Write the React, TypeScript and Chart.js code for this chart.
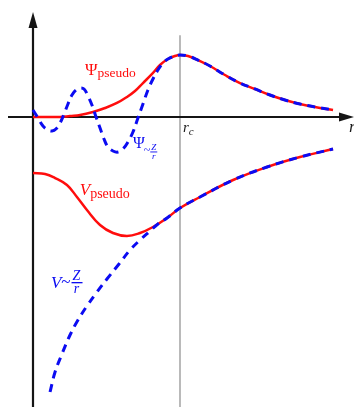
import React, { useEffect, useRef } from "react";
import { Chart, registerables } from "chart.js";

Chart.register(...registerables);

// r in units of the cutoff radius r_c (r_c = 1); amplitudes in arbitrary units
const RC = 1;

// Pseudo wavefunction
const PSI_PSEUDO_R = [0, 0.116, 0.184, 0.252, 0.32, 0.408, 0.49, 0.571, 0.639, 0.694, 0.748, 0.81, 0.864, 0.918, 0.966, 1.0];
const PSI_PSEUDO_V = [0, 0, 0, 0.016, 0.032, 0.081, 0.145, 0.226, 0.323, 0.419, 0.548, 0.694, 0.839, 0.935, 0.984, 1.0];

// Shared wavefunction tail beyond r_c
const PSI_TAIL_R = [1.054, 1.122, 1.204, 1.306, 1.408, 1.51, 1.612, 1.714, 1.816, 1.918, 2.041];
const PSI_TAIL_V = [0.984, 0.919, 0.823, 0.677, 0.548, 0.452, 0.355, 0.274, 0.21, 0.161, 0.113];

// All-electron wavefunction (inside r_c)
const PSI_AE_R = [0, 0.034, 0.068, 0.102, 0.129, 0.156, 0.184, 0.211, 0.238, 0.265, 0.293, 0.32, 0.347, 0.374, 0.401, 0.429, 0.456, 0.483, 0.51, 0.544, 0.578, 0.612, 0.646, 0.68, 0.714, 0.748, 0.782, 0.816, 0.85, 0.884, 0.918, 0.966, 1.0];
const PSI_AE_V = [0.113, -0.016, -0.145, -0.21, -0.226, -0.194, -0.097, 0.048, 0.21, 0.355, 0.435, 0.468, 0.452, 0.339, 0.194, 0, -0.177, -0.355, -0.484, -0.548, -0.565, -0.516, -0.403, -0.242, -0.016, 0.21, 0.435, 0.613, 0.758, 0.871, 0.935, 0.984, 1.0];

// Pseudopotential (inside r_c)
const V_PSEUDO_R = [0, 0.082, 0.15, 0.231, 0.299, 0.367, 0.456, 0.544, 0.639, 0.728, 0.816, 0.912, 1.0];
const V_PSEUDO_V = [-0.903, -0.919, -0.984, -1.097, -1.29, -1.5, -1.742, -1.871, -1.919, -1.871, -1.774, -1.629, -1.468];

// Shared potential tail beyond r_c
const V_TAIL_R = [1.136, 1.361, 1.592, 1.816, 2.041];
const V_TAIL_V = [-1.29, -1.016, -0.806, -0.645, -0.516];

// Coulomb potential ~ Z/r (inside r_c)
const V_AE_R = [0.116, 0.15, 0.197, 0.252, 0.306, 0.367, 0.435, 0.503, 0.585, 0.66, 0.728, 0.796, 0.85, 0.912, 1.0];
const V_AE_V = [-4.435, -4.113, -3.823, -3.516, -3.274, -3.048, -2.823, -2.613, -2.371, -2.145, -1.984, -1.839, -1.726, -1.629, -1.468];

const X_MIN = -0.2245;
const X_MAX = 2.1837;
const Y_MIN = -4.677;
const Y_MAX = 1.887;

const RED = "#ff0d0d";
const BLUE = "#0b0bf2";

function pts(rs: number[], vs: number[]) {
  return rs.map((r, i) => ({ x: r, y: vs[i] }));
}

const SERIF = '"Liberation Serif", "DejaVu Serif", serif';

const overlay = {
  id: "overlay",
  beforeDatasetsDraw(chart: any) {
    const ctx = chart.ctx as CanvasRenderingContext2D;
    const xs = chart.scales.x;
    const ys = chart.scales.y;
    const H = chart.height;
    const W = chart.width;
    const x0 = xs.getPixelForValue(0);
    const y0 = ys.getPixelForValue(0);
    const xr = xs.getPixelForValue(RC);
    ctx.save();
    // r_c guide line
    ctx.strokeStyle = "#a9a9a9";
    ctx.lineWidth = 1.6;
    ctx.beginPath();
    ctx.moveTo(xr, ys.getPixelForValue(1.32));
    ctx.lineTo(xr, H);
    ctx.stroke();
    // axes
    ctx.strokeStyle = "#151515";
    ctx.fillStyle = "#151515";
    ctx.lineWidth = 2.2;
    ctx.beginPath();
    ctx.moveTo(x0, H);
    ctx.lineTo(x0, 24);
    ctx.moveTo(8, y0);
    ctx.lineTo(W - 12, y0);
    ctx.stroke();
    ctx.beginPath();
    ctx.moveTo(x0, 12);
    ctx.lineTo(x0 - 4.5, 28);
    ctx.lineTo(x0 + 4.5, 28);
    ctx.closePath();
    ctx.fill();
    ctx.beginPath();
    ctx.moveTo(W, y0);
    ctx.lineTo(W - 15, y0 - 4.5);
    ctx.lineTo(W - 15, y0 + 4.5);
    ctx.closePath();
    ctx.fill();
    ctx.restore();
  },
  afterDatasetsDraw(chart: any) {
    const ctx = chart.ctx as CanvasRenderingContext2D;
    const xs = chart.scales.x;
    const ys = chart.scales.y;
    const X = (r: number) => xs.getPixelForValue(r);
    const Y = (v: number) => ys.getPixelForValue(v);
    ctx.save();
    ctx.textBaseline = "alphabetic";
    ctx.textAlign = "left";

    // Psi_pseudo
    ctx.fillStyle = RED;
    let x = X(0.354);
    let y = Y(0.677);
    ctx.font = `17px ${SERIF}`;
    ctx.fillText("Ψ", x, y);
    x += ctx.measureText("Ψ").width;
    ctx.font = `13.5px ${SERIF}`;
    ctx.fillText("pseudo", x, y + 2);

    // V_pseudo
    x = X(0.318);
    y = Y(-1.258);
    ctx.font = `italic 17px ${SERIF}`;
    ctx.fillText("V", x, y);
    x += ctx.measureText("V").width;
    ctx.font = `14px ${SERIF}`;
    ctx.fillText("pseudo", x, y + 3);

    // Psi ~ Z/r
    ctx.fillStyle = BLUE;
    x = X(0.68);
    y = Y(-0.5);
    ctx.font = `16px ${SERIF}`;
    ctx.fillText("Ψ", x, y);
    x += ctx.measureText("Ψ").width;
    ctx.font = `12px ${SERIF}`;
    ctx.fillText("~", x - 1, y + 6);
    x += ctx.measureText("~").width - 1;
    ctx.font = `italic 9px ${SERIF}`;
    ctx.textAlign = "center";
    ctx.fillText("Z", x + 3.5, y + 2);
    ctx.fillText("r", x + 3.5, y + 10.5);
    ctx.fillRect(x, y + 3.5, 7, 0.9);
    ctx.textAlign = "left";

    // V ~ Z/r
    x = X(0.122);
    y = Y(-2.758);
    ctx.font = `italic 17px ${SERIF}`;
    ctx.fillText("V", x, y);
    x += ctx.measureText("V").width;
    ctx.font = `17px ${SERIF}`;
    ctx.fillText("~", x, y - 1);
    x += ctx.measureText("~").width + 1;
    ctx.font = `italic 14px ${SERIF}`;
    ctx.textAlign = "center";
    ctx.fillText("Z", x + 5, y - 8);
    ctx.fillText("r", x + 5, y + 5);
    ctx.fillRect(x, y - 6, 11, 1.3);
    ctx.textAlign = "left";

    // r_c and r labels
    ctx.fillStyle = "#1a1a1a";
    x = X(1.02);
    y = Y(-0.242);
    ctx.font = `italic 15px ${SERIF}`;
    ctx.fillText("r", x, y);
    x += ctx.measureText("r").width;
    ctx.font = `italic 11px ${SERIF}`;
    ctx.fillText("c", x, y + 3);

    ctx.font = `italic 17px ${SERIF}`;
    ctx.fillText("r", X(2.15), Y(-0.242));
    ctx.restore();
  },
};

export default function App() {
  const ref = useRef<HTMLCanvasElement | null>(null);

  useEffect(() => {
    if (!ref.current) return;
    const blueDash = {
      borderColor: BLUE,
      borderWidth: 3,
      borderDash: [8, 6],
      pointRadius: 0,
      fill: false,
      tension: 0.4,
      order: 0,
    };
    const redSolid = {
      borderColor: RED,
      borderWidth: 2.5,
      pointRadius: 0,
      fill: false,
      tension: 0.4,
      order: 1,
    };
    const chart = new Chart(ref.current, {
      type: "line",
      data: {
        datasets: [
          { ...blueDash, label: "Ψ ~ Z/r", data: pts([...PSI_AE_R, ...PSI_TAIL_R], [...PSI_AE_V, ...PSI_TAIL_V]) },
          { ...blueDash, label: "V ~ Z/r", data: pts([...V_AE_R, ...V_TAIL_R], [...V_AE_V, ...V_TAIL_V]) },
          { ...redSolid, label: "Ψ pseudo", data: pts([...PSI_PSEUDO_R, ...PSI_TAIL_R], [...PSI_PSEUDO_V, ...PSI_TAIL_V]) },
          { ...redSolid, label: "V pseudo", data: pts([...V_PSEUDO_R, ...V_TAIL_R], [...V_PSEUDO_V, ...V_TAIL_V]) },
        ],
      },
      options: {
        animation: false,
        responsive: false,
        maintainAspectRatio: false,
        layout: { padding: 0 },
        plugins: { legend: { display: false }, tooltip: { enabled: false }, title: { display: false } },
        scales: {
          x: { type: "linear", min: X_MIN, max: X_MAX, display: false },
          y: { type: "linear", min: Y_MIN, max: Y_MAX, display: false },
        },
      },
      plugins: [overlay],
    });
    return () => chart.destroy();
  }, []);

  return (
    <div style={{ position: "fixed", left: 0, top: 0, width: 354, height: 407, background: "#fff" }}>
      <canvas ref={ref} width={354} height={407} style={{ display: "block" }} />
    </div>
  );
}
